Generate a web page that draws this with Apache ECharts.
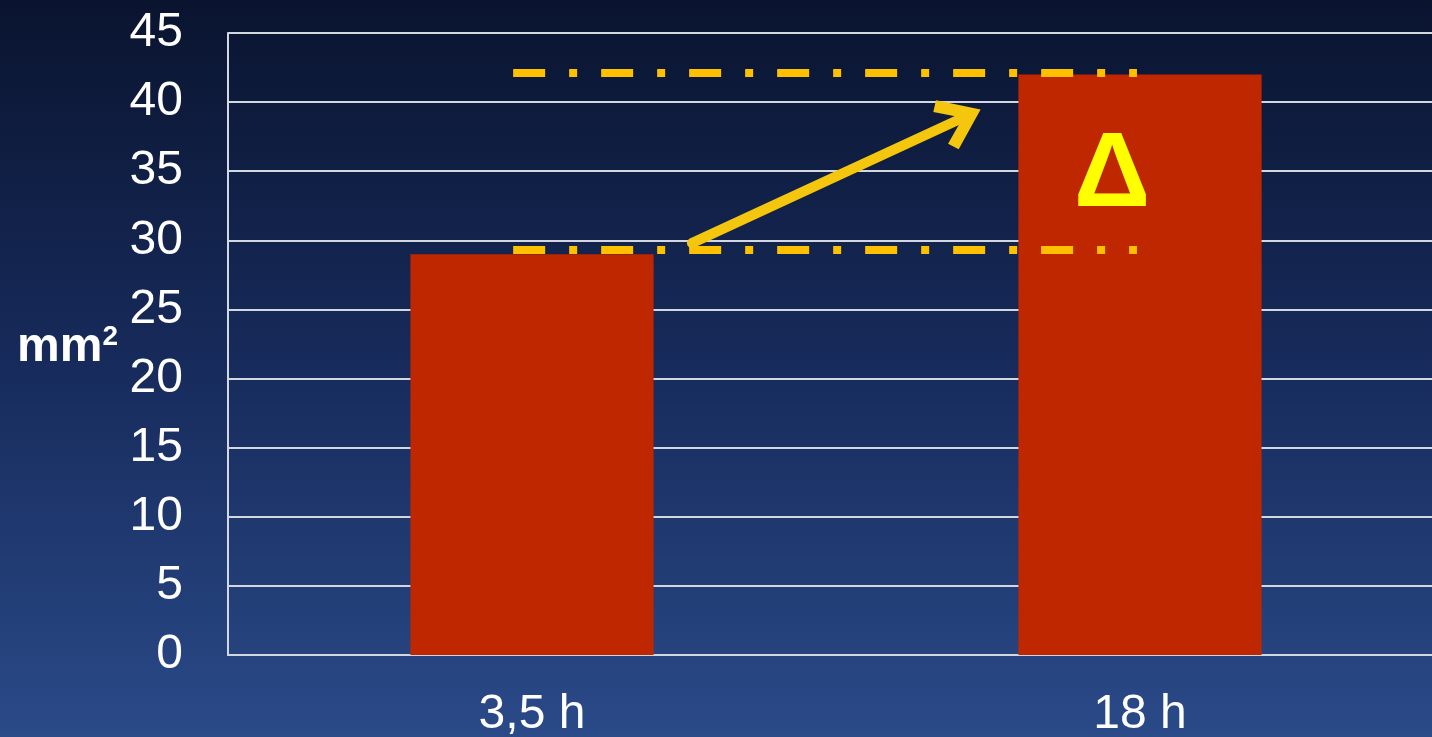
<!DOCTYPE html>
<html>
<head>
<meta charset="utf-8">
<title>mm2 3,5 h vs 18 h</title>
<script src="https://cdn.jsdelivr.net/npm/echarts@6/dist/echarts.min.js"></script>
<style>
  html, body { margin: 0; padding: 0; }
  #chart { width: 1432px; height: 737px; }
</style>
</head>
<body>
<div id="chart"></div>
<script>
const categories = ['3,5 h', '18 h'];
const areaValues = [29, 42];
const yTicks = { min: 0, max: 45, interval: 5 };

// guide lines at the two levels, x in band units (0..2 over the two categories)
const levelLines = [
  { y: 42.1, from: 0.469, to: 1.495 },
  { y: 29.3, from: 0.469, to: 1.495 }
];
const arrowFrom = [0.763, 29.8];
const arrowTo = [1.205, 38.8];
const deltaLabel = { text: 'Δ', at: [1.454, 34.6] };

const FONT = '"Liberation Sans", Arial, sans-serif';
const GRID_COLOR = '#d3d7e0';

const chart = echarts.init(document.getElementById('chart'));

const markLines = levelLines.map(l => [
  { coord: [l.from, l.y], symbol: 'none' },
  { coord: [l.to, l.y], symbol: 'none' }
]);

chart.setOption({
  backgroundColor: new echarts.graphic.LinearGradient(0, 0, 0, 1, [
    { offset: 0, color: '#0a142f' },
    { offset: 0.5, color: '#172b5c' },
    { offset: 1, color: '#2a4a88' }
  ]),
  animation: false,
  grid: { left: 228, top: 33, bottom: 82, right: -12, outerBoundsMode: 'none', containLabel: false },
  xAxis: [
    {
      type: 'category',
      data: categories,
      axisLine: { show: true, lineStyle: { color: GRID_COLOR, width: 2 } },
      axisTick: { show: false },
      axisLabel: { color: '#ffffff', fontSize: 48, fontFamily: FONT, margin: 36 }
    },
    {
      type: 'value',
      min: 0,
      max: 2,
      show: false
    }
  ],
  yAxis: {
    type: 'value',
    min: yTicks.min,
    max: yTicks.max,
    interval: yTicks.interval,
    name: 'mm{s|2}',
    nameLocation: 'middle',
    nameRotate: 0,
    nameGap: 110,
    nameTextStyle: {
      color: '#ffffff',
      fontSize: 48,
      fontWeight: 'bold',
      fontFamily: FONT,
      padding: [8, 0, 0, 0],
      rich: {
        s: { color: '#ffffff', fontSize: 28, fontWeight: 'bold', fontFamily: FONT, padding: [0, 0, 22, 0] }
      }
    },
    axisLine: { show: true, lineStyle: { color: GRID_COLOR, width: 2 } },
    axisTick: { show: false },
    axisLabel: { color: '#ffffff', fontSize: 48, fontFamily: FONT, margin: 45 },
    splitLine: { lineStyle: { color: GRID_COLOR, width: 2 } }
  },
  series: [
    {
      type: 'bar',
      data: areaValues,
      barWidth: '40%',
      itemStyle: { color: '#bf2700' },
      z: 3
    },
    {
      // annotation layer on the hidden value x axis
      type: 'line',
      xAxisIndex: 1,
      data: [],
      z: 5,
      markLine: {
        silent: true,
        label: { show: false },
        lineStyle: { color: '#ffc000', width: 8, type: [32, 24, 8, 24], cap: 'butt' },
        data: markLines.concat([
          [
            { coord: arrowFrom, symbol: 'none', lineStyle: { color: '#f4c60e', width: 10, type: 'solid', cap: 'round' } },
            { coord: arrowTo, symbol: 'path://M10,0 L20,15 L16.5,18 L10,8 L3.5,18 L0,15 Z', symbolSize: [54, 44] }
          ]
        ])
      },
      markPoint: {
        silent: true,
        symbol: 'circle',
        symbolSize: 1,
        itemStyle: { color: 'rgba(0,0,0,0)' },
        label: {
          show: true,
          position: 'inside',
          color: '#ffff00',
          fontSize: 106,
          fontWeight: 'bold',
          fontFamily: FONT
        },
        data: [{ coord: deltaLabel.at, value: deltaLabel.text }]
      }
    }
  ]
});
</script>
</body>
</html>
